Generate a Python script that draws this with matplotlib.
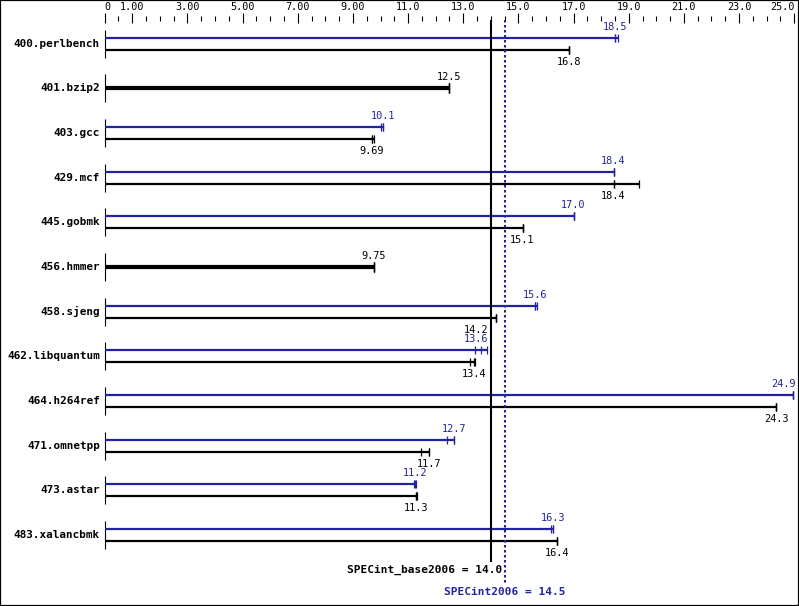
import numpy as np
import matplotlib
matplotlib.use("Agg")
import matplotlib.pyplot as plt

# -----------------------------
# Data
# -----------------------------
benchmarks = ["400.perlbench", "401.bzip2", "403.gcc", "429.mcf", "445.gobmk",
              "456.hmmer", "458.sjeng", "462.libquantum", "464.h264ref",
              "471.omnetpp", "473.astar", "483.xalancbmk"]

# base runs (min, median, max)
base_min = [16.85, 12.5, 9.69, 18.45, 15.15, 9.75, 14.2, 13.26, 24.35, 11.48, 11.28, 16.4]
base_med = [16.85, 12.5, 9.69, 18.45, 15.15, 9.75, 14.2, 13.4, 24.35, 11.75, 11.3, 16.4]
base_max = [16.85, 12.5, 9.76, 19.37, 15.15, 9.75, 14.2, 13.43, 24.35, 11.77, 11.33, 16.4]
base_labels = ["16.8", "12.5", "9.69", "18.4", "15.1", "9.75", "14.2", "13.4",
               "24.3", "11.7", "11.3", "16.4"]

# peak runs (None where peak == base)
peak_min = [18.5, None, 10.03, 18.45, 17.0, None, 15.6, 13.44, 24.95, 12.42, 11.23, 16.17]
peak_med = [18.5, None, 10.1, 18.45, 17.0, None, 15.6, 13.64, 24.95, 12.67, 11.25, 16.27]
peak_max = [18.6, None, 10.1, 18.45, 17.0, None, 15.67, 13.85, 24.95, 12.67, 11.3, 16.27]
peak_labels = ["18.5", None, "10.1", "18.4", "17.0", None, "15.6", "13.6",
               "24.9", "12.7", "11.2", "16.3"]

base_score = 14.0
peak_score = 14.5

major_ticks = [0, 1, 3, 5, 7, 9, 11, 13, 15, 17, 19, 21, 23, 25]
major_labels = ["0", "1.00", "3.00", "5.00", "7.00", "9.00", "11.0", "13.0",
                "15.0", "17.0", "19.0", "21.0", "23.0", "25.0"]
minor_ticks = [t for t in np.arange(0, 25.01, 0.5) if t not in major_ticks]

# -----------------------------
# Layout (pixels)
# -----------------------------
W, H = 799, 606
X0 = 104.7      # pixel of value 0
PX = 27.58      # pixels per unit
Y0 = 43.7       # first benchmark centre
DY = 44.66      # spacing
BLUE = "#2323a0"
MONO = "DejaVu Sans Mono"


def px2v(px):
    return (px - X0) / PX


fig = plt.figure(figsize=(W / 100, H / 100), dpi=100)
ax = fig.add_axes([0, 0, 1, 1])
ax.set_xlim(px2v(0), px2v(W))
ax.set_ylim(H, 0)
ax.set_xticks([])
ax.set_yticks([])
for s in ax.spines.values():
    s.set_linewidth(1.6)
    s.set_color("black")

# top scale
sec = ax.secondary_xaxis(1 - 18 / H)
sec.set_xticks(major_ticks, labels=major_labels)
sec.set_xticks(minor_ticks, minor=True)
sec.tick_params(which="major", direction="inout", length=7.2, width=0.8,
                pad=0.6, labelsize=7.3)
sec.tick_params(which="minor", direction="inout", length=3.6, width=0.8)
for s in sec.spines.values():
    s.set_visible(False)
labs = sec.get_xticklabels()
for lab in labs:
    lab.set_fontfamily(MONO)
labs[0].set_ha("left")
labs[-1].set_ha("right")

LINE_PX = X0 + base_score * PX


def place_label(v, y, txt, color):
    hw = 3.0 * len(txt)
    cx = X0 + v * PX
    if cx - hw < LINE_PX + 1 and cx + hw > LINE_PX - 2:
        cx = LINE_PX - 3 - hw
    if cx + hw > W - 4:
        cx = W - 4 - hw
    ax.text(px2v(cx), y, txt, ha="center", va="center", fontsize=7.4,
            family=MONO, color=color)


for i, name in enumerate(benchmarks):
    yc = Y0 + i * DY
    ax.vlines(0, yc - 14, yc + 14, color="black", lw=0.8)
    ax.text(px2v(100), yc, name, ha="right", va="center", fontsize=7.9,
            family=MONO, fontweight="bold")
    runs_b = [base_min[i], base_med[i], base_max[i]]
    if peak_med[i] is None:
        ax.hlines(yc, 0, base_max[i], color="black", lw=3.0)
        ax.vlines(runs_b, yc - 5, yc + 5, color="black", lw=0.9)
        place_label(base_med[i], yc - 11, base_labels[i], "black")
    else:
        yp, yb = yc - 6, yc + 6
        runs_p = [peak_min[i], peak_med[i], peak_max[i]]
        ax.hlines(yp, 0, peak_max[i], color=BLUE, lw=1.6)
        ax.vlines(runs_p, yp - 4, yp + 4, color=BLUE, lw=0.9)
        ax.hlines(yb, 0, base_max[i], color="black", lw=1.6)
        ax.vlines(runs_b, yb - 4, yb + 4, color="black", lw=0.9)
        place_label(peak_med[i], yp - 11, peak_labels[i], BLUE)
        place_label(base_med[i], yb + 12, base_labels[i], "black")

# overall scores
ax.vlines(base_score, 20, 562, color="black", lw=1.5)
ax.vlines(peak_score, 20, 583, color=BLUE, lw=1.5, linestyles=(0, (1.2, 1.2)))
ax.text(px2v(LINE_PX + 11), 570, "SPECint_base2006 = 14.0", ha="right",
        va="center", fontsize=8.0, family=MONO, fontweight="bold", color="black")
ax.text(peak_score, 592, "SPECint2006 = 14.5", ha="center", va="center",
        fontsize=8.0, family=MONO, fontweight="bold", color=BLUE)

fig.savefig("out.png", dpi=100)
